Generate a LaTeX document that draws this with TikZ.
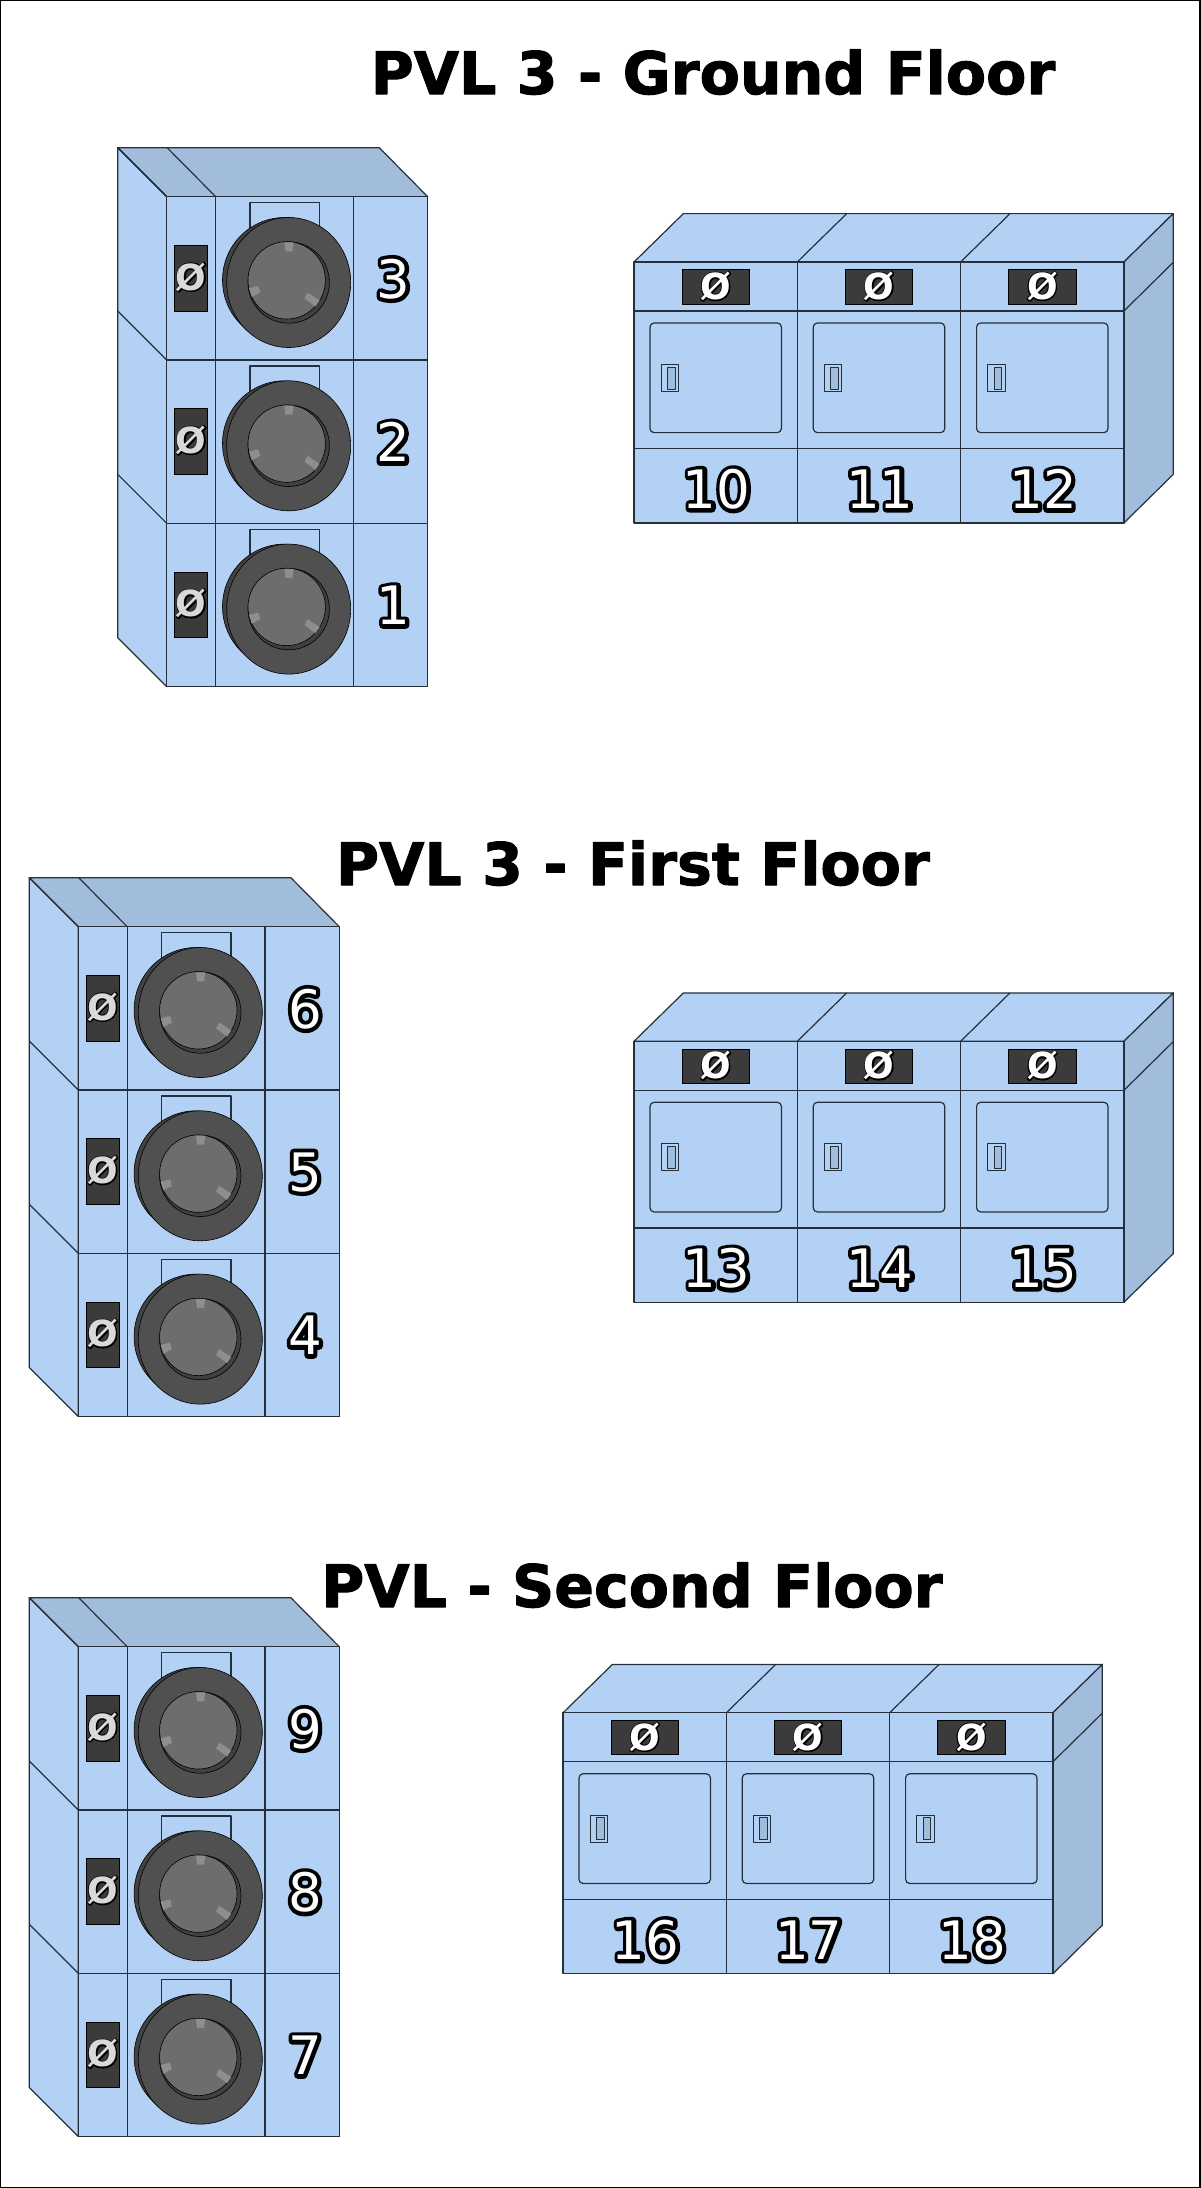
\documentclass[tikz,border=0pt]{standalone}
\usepackage{fontspec}
\setmainfont{DejaVu Sans}
\newfontfamily\boldface{DejaVu Sans Bold}
\usepackage{xcolor}
\definecolor{frontblue}{HTML}{B3D1F5}
\definecolor{sideblue}{HTML}{A2BCDB}
\definecolor{drumgray}{HTML}{505050}
\definecolor{backgray}{HTML}{424242}
\definecolor{rimgray}{HTML}{404040}
\definecolor{glassgray}{HTML}{6D6D6D}
\definecolor{tabgray}{HTML}{8E8E8E}
\definecolor{panelgray}{HTML}{3B3B3B}
\definecolor{edgegray}{HTML}{26303A}
\tikzset{
  front/.style={draw=edgegray,fill=frontblue,line width=1.2pt,line join=round},
  side/.style={draw=edgegray,fill=sideblue,line width=1.2pt,line join=round},
  disc/.style={draw=black,line width=0.6pt},
  panel/.style={draw=black,fill=panelgray,line width=0.8pt},
  title/.style={anchor=base,inner sep=0pt,font=\boldface\fontsize{58.6}{60}\selectfont},
  number/.style={inner sep=0pt,font=\fontsize{53}{56}\selectfont},
  lock/.style={inner sep=0pt,font=\boldface\fontsize{36}{38}\selectfont}
}
\newcommand{\outl}[3]{\leavevmode\rlap{\special{pdf:code q 1 j 1 J #1 w 1 Tr}\textcolor{black}{#3}\special{pdf:code Q}}\textcolor{#2}{#3}}
\newcommand{\heavy}[1]{\special{pdf:code q 1 j 1 w 2 Tr}#1\special{pdf:code Q}}
\newcommand{\stackdryers}[5]{
\begin{scope}[shift={(#1,#2)}]
\draw [side] (-49,-49) -- (212.6,-49) -- (261,0) -- (0,0) -- cycle;
\draw [side] (-49,-49) -- (0,0);
\draw [side] (0.4,-49) -- (49,0);
\draw [front] (-49,-49) -- (0,0) -- (0,489.9) -- (-49,440.9) -- cycle;
\foreach \n [count=\r from 0] in {#3,#4,#5} {
\begin{scope}[shift={(0,\r*163.3)}]
\draw [front] (0,0) rectangle (49,163.3);
\draw [front] (49,0) rectangle (186.6,163.3);
\draw [front] (186.6,0) rectangle (261,163.3);
\draw [panel] (7.6,48.6) rectangle (41,114.3);
\node [lock] (lock\n) at (24.4,80.4) {\outl{2.4}{black!15}{Ø}};
\draw [front] (83.3,6) rectangle (152.6,95);
\fill [backgray] (117.8,83.3) ellipse [x radius=62,y radius=62.5];
\draw [disc] (117.8,83.3) ellipse [x radius=62,y radius=62.5];
\draw [disc,fill=drumgray] (122,85.8) ellipse [x radius=62,y radius=65];
\draw [disc,fill=rimgray] (122,85.8) ellipse [x radius=40.7,y radius=40.7];
\draw [disc,fill=glassgray] (120,83.6) ellipse [x radius=38.7,y radius=38.7];
\begin{scope}[shift={(120,83.6)}]
\fill [tabgray] (-2.3,-38) -- (7,-38) -- (5.7,-29) -- (-1.3,-29) -- cycle;
\fill [tabgray] (-37.7,8) -- (-28.3,5.7) -- (-26.3,12.3) -- (-35,16.7) -- cycle;
\fill [tabgray] (21,12.3) -- (33,20.3) -- (28.7,26.3) -- (17.7,18) -- cycle;
\end{scope}
\node [number] (num\n) at (226.8,82.3) {\outl{8}{white}{\n}};
\end{scope}
\draw [side] (-49,\r*163.3-49) -- (0,\r*163.3);
}
\end{scope}
}
\newcommand{\rowdryers}[5]{
\begin{scope}[shift={(#1,#2)}]
\draw [front] (0,0) -- (49.4,-48.4) -- (539.3,-48.4) -- (489.9,0) -- cycle;
\draw [side] (489.9,0) -- (539.3,-48.4) -- (539.3,212.3) -- (489.9,261) -- cycle;
\draw [side] (489.9,49) -- (539.3,0.3);
\foreach \n [count=\r from 0] in {#3,#4,#5} {
\begin{scope}[shift={(\r*163.3,0)}]
\draw [front] (0,0) rectangle (163.3,49);
\draw [front] (0,49) rectangle (163.3,186.6);
\draw [front] (0,186.6) rectangle (163.3,261);
\draw [panel] (48,7.6) rectangle (115.4,42);
\node [lock] (lock\n) at (81.7,24.4) {\outl{2.4}{white}{Ø}};
\draw [front,rounded corners=4pt] (16,61) rectangle (147.4,170.6);
\draw [front,line width=1pt] (27,102.3) rectangle (44.4,129.3);
\draw [side,line width=1pt] (33.4,105) rectangle (41,127);
\node [number] (num\n) at (82.7,227.3) {\outl{8}{white}{\n}};
\ifnum\r<2 \draw [front] (163.3,0) -- (212.7,-48.4); \fi
\end{scope}
}
\end{scope}
}
\begin{document}
\begin{tikzpicture}[x=1pt,y=-1pt]
\useasboundingbox (0,0) rectangle (1200,2188);
\fill [white] (0,0) rectangle (1200,2188);
\draw [black,line width=2pt] (0,0) rectangle (1200,2188);

\node [title] (ground) at (713,94) {\heavy{PVL 3 - Ground Floor}};
\node [title] (first) at (633,885) {\heavy{PVL 3 - First Floor}};
\node [title] (second) at (632,1607) {\heavy{PVL - Second Floor}};

\stackdryers{166.7}{196.7}{3}{2}{1}
\stackdryers{78.3}{926.7}{6}{5}{4}
\stackdryers{78.3}{1646.7}{9}{8}{7}

\rowdryers{634}{262}{10}{11}{12}
\rowdryers{634}{1041.3}{13}{14}{15}
\rowdryers{563}{1712.8}{16}{17}{18}
\end{tikzpicture}
\end{document}
